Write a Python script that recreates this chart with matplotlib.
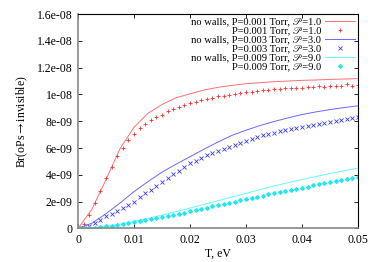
import numpy as np
import matplotlib
matplotlib.use("Agg")
import matplotlib.pyplot as plt

# SECTION Data (values in units of 1e-9)

t_line = [0.0, 0.0025, 0.005, 0.0075, 0.01, 0.0125, 0.015, 0.0175, 0.02, 0.0225, 0.025,
          0.0275, 0.03, 0.0325, 0.035, 0.0375, 0.04, 0.0425, 0.045, 0.0475, 0.05]

red_line = [0.0, 1.45, 3.65, 5.95, 7.55, 8.6, 9.25, 9.75, 10.05, 10.33, 10.53,
            10.68, 10.8, 10.88, 10.95, 11.0, 11.05, 11.08, 11.12, 11.15, 11.18]
blue_line = [0.0, 0.4, 1.1, 1.9, 2.75, 3.5, 4.2, 4.8, 5.35, 5.92, 6.45,
             6.95, 7.33, 7.68, 7.98, 8.25, 8.5, 8.7, 8.87, 9.02, 9.15]
cyan_line = [0.0, 0.05, 0.15, 0.32, 0.52, 0.75, 1.0, 1.25, 1.52, 1.8, 2.07,
             2.35, 2.62, 2.9, 3.17, 3.42, 3.65, 3.88, 4.1, 4.3, 4.5]

t_pts = [i / 1000 for i in range(51)]

red_pts = [0.0, 0.35, 1.0, 1.9, 2.8, 3.75, 4.6, 5.4, 6.0, 6.6,
           7.05, 7.5, 7.8, 8.1, 8.3, 8.5, 8.8, 8.95, 9.05, 9.2,
           9.35, 9.45, 9.55, 9.65, 9.75, 9.85, 9.9, 9.95, 10.05, 10.1,
           10.15, 10.2, 10.25, 10.3, 10.35, 10.4, 10.4, 10.45, 10.45, 10.5,
           10.5, 10.55, 10.55, 10.6, 10.55, 10.6, 10.65, 10.6, 10.75, 10.65,
           10.68]
blue_pts = [0.0, 0.05, 0.15, 0.4, 0.65, 0.9, 1.1, 1.3, 1.55, 1.76,
            2.0, 2.35, 2.65, 2.9, 3.15, 3.5, 3.75, 4.05, 4.3, 4.6,
            4.85, 5.05, 5.25, 5.45, 5.6, 5.75, 5.9, 6.05, 6.2, 6.35,
            6.5, 6.65, 6.8, 6.95, 7.05, 7.15, 7.25, 7.35, 7.45, 7.5,
            7.6, 7.65, 7.75, 7.8, 7.9, 7.95, 8.05, 8.1, 8.15, 8.25,
            8.3]
cyan_pts = [0.0, 0.0, 0.02, 0.05, 0.1, 0.15, 0.2, 0.27, 0.33, 0.4,
            0.47, 0.55, 0.62, 0.7, 0.78, 0.86, 0.94, 1.02, 1.1, 1.19,
            1.28, 1.37, 1.46, 1.55, 1.64, 1.73, 1.82, 1.91, 2.0, 2.09,
            2.18, 2.27, 2.36, 2.45, 2.55, 2.65, 2.73, 2.81, 2.89, 2.97,
            3.05, 3.13, 3.21, 3.29, 3.37, 3.45, 3.53, 3.61, 3.69, 3.77,
            3.85]

labels = ["no walls, P=0.001 Torr, \U0001D4AB=1.0",
          "P=0.001 Torr, \U0001D4AB=1.0",
          "no walls, P=0.003 Torr, \U0001D4AB=3.0",
          "P=0.003 Torr, \U0001D4AB=3.0",
          "no walls, P=0.009 Torr, \U0001D4AB=9.0",
          "P=0.009 Torr, \U0001D4AB=9.0"]

x_ticks = [0, 0.01, 0.02, 0.03, 0.04, 0.05]
x_tick_labels = ["0", "0.01", "0.02", "0.03", "0.04", "0.05"]
y_ticks = [0, 2e-9, 4e-9, 6e-9, 8e-9, 1e-8, 1.2e-8, 1.4e-8, 1.6e-8]
y_tick_labels = ["0", "2e-09", "4e-09", "6e-09", "8e-09", "1e-08", "1.2e-08", "1.4e-08", "1.6e-08"]

# SECTION Plot

plt.rcParams["font.family"] = ["Liberation Serif", "STIXGeneral", "DejaVu Serif"]
plt.rcParams["mathtext.fontset"] = "stix"

fig = plt.figure(figsize=(3.74, 2.62), dpi=100)
ax = fig.add_axes([0.2086, 0.128, 0.7487, 0.8185])

scale = 1e-9
t_line = np.array(t_line)
t_pts = np.array(t_pts)

ax.plot(t_line, np.array(red_line) * scale, color="#ff7070", lw=0.7, label=labels[0])
ax.plot(t_pts, np.array(red_pts) * scale, ls="none", marker="+", ms=2.8, mew=0.6,
        color="#ff3030", label=labels[1])
ax.plot(t_line, np.array(blue_line) * scale, color="#6868ff", lw=0.7, label=labels[2])
ax.plot(t_pts, np.array(blue_pts) * scale, ls="none", marker="x", ms=2.4, mew=0.6,
        color="#3a3aff", label=labels[3])
ax.plot(t_line, np.array(cyan_line) * scale, color="#60ffff", lw=0.7, label=labels[4])
ax.plot(t_pts, np.array(cyan_pts) * scale, ls="none", marker=(8, 2, 0), ms=2.8, mew=0.9,
        color="#20e8f0", label=labels[5])

ax.set_xlim(0, 0.05)
ax.set_ylim(0, 1.6e-8)
ax.set_xticks(x_ticks)
ax.set_xticklabels(x_tick_labels)
ax.set_yticks(y_ticks)
ax.set_yticklabels(y_tick_labels)
ax.tick_params(direction="in", length=3, width=0.6, labelsize=8.5, top=True, right=True, pad=4)

for side in ["left", "bottom"]:
    ax.spines[side].set_color("#888888")
    ax.spines[side].set_linewidth(1.2)
for side in ["top", "right"]:
    ax.spines[side].set_linewidth(0.8)

ax.set_xlabel("T, eV", fontsize=8.5, labelpad=1)
ax.set_ylabel("Br(oPs$\\rightarrow$invisible)", fontsize=8.5, labelpad=5)

ax.legend(loc="upper right", frameon=False, markerfirst=False, fontsize=7.6,
          handlelength=2.8, labelspacing=0.0, borderaxespad=0.2, handletextpad=0.4,
          borderpad=0.1, handleheight=0.5)

fig.savefig("out.png", dpi=100)
plt.close(fig)
